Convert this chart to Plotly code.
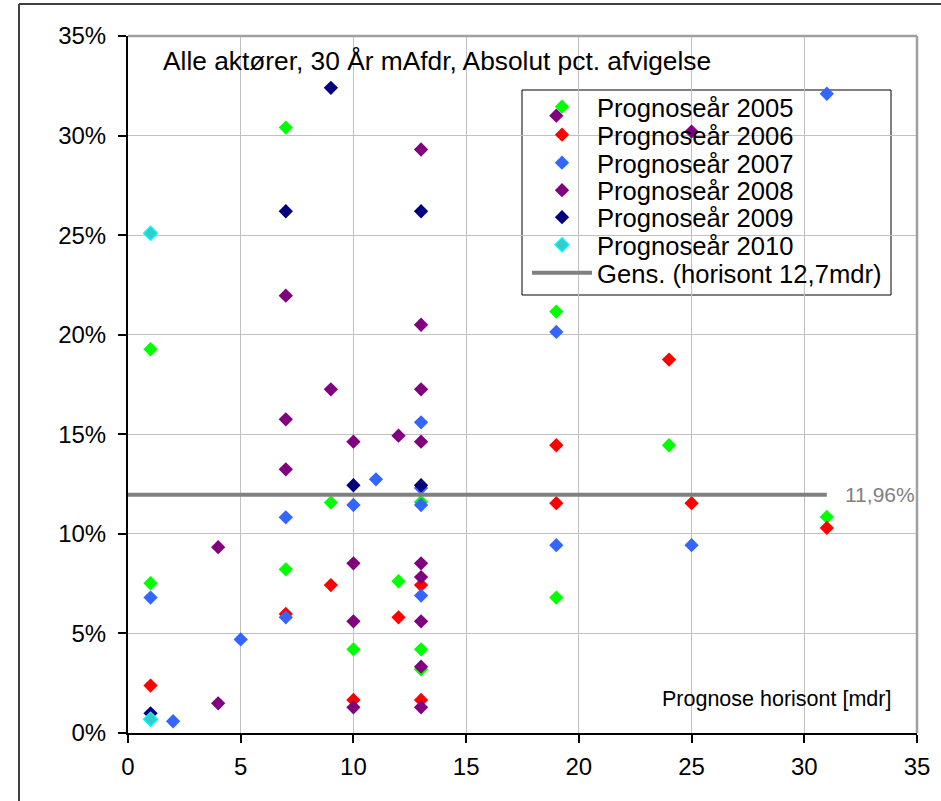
import plotly.graph_objects as go

# ---------------- data ----------------
series_names = ["Prognoseår 2005", "Prognoseår 2006", "Prognoseår 2007",
                "Prognoseår 2008", "Prognoseår 2009", "Prognoseår 2010"]

x_2005 = [1, 1, 7, 7, 9, 10, 12, 13, 13, 13, 19, 19, 24, 31]
y_2005 = [19.27, 7.52, 30.4, 8.22, 11.57, 4.2, 7.62, 11.6, 4.2, 3.2, 21.16, 6.8, 14.45, 10.85]

x_2006 = [1, 7, 9, 10, 12, 13, 13, 19, 19, 24, 25, 31]
y_2006 = [2.38, 5.98, 7.43, 1.66, 5.81, 7.43, 1.66, 14.45, 11.54, 18.75, 11.54, 10.3]

x_2007 = [1, 2, 5, 7, 7, 10, 11, 13, 13, 13, 13, 19, 19, 25, 31]
y_2007 = [6.8, 0.59, 4.7, 10.83, 5.81, 11.45, 12.74, 15.6, 12.3, 11.45, 6.9, 20.14, 9.43, 9.43, 32.1]

x_2008 = [4, 4, 7, 7, 7, 9, 10, 10, 10, 10, 12, 13, 13, 13, 13, 13, 13, 13, 13, 13, 19, 25]
y_2008 = [9.33, 1.49, 21.96, 15.75, 13.24, 17.26, 14.63, 8.52, 5.61, 1.29, 14.93,
          29.3, 20.5, 17.26, 14.63, 8.52, 7.83, 5.61, 3.33, 1.29, 31.0, 30.2]

x_2009 = [1, 7, 9, 10, 13, 13]
y_2009 = [0.99, 26.2, 32.4, 12.44, 26.2, 12.44]

x_2010 = [1, 1]
y_2010 = [25.1, 0.69]

mean_name = "Gens. (horisont 12,7mdr)"
mean_x = [0, 31]
mean_value = 11.96
mean_label = "11,96%"

title_text = "Alle aktører, 30 År mAfdr, Absolut pct. afvigelse"
xaxis_title = "Prognose horisont [mdr]"
x_ticks = [0, 5, 10, 15, 20, 25, 30, 35]
y_ticks = [0, 5, 10, 15, 20, 25, 30, 35]
y_tick_labels = ["0%", "5%", "10%", "15%", "20%", "25%", "30%", "35%"]

# ---------------- layout geometry ----------------
W, H = 941, 801
ML, MR, MT, MB = 128, 24, 36, 68
PW = W - ML - MR
PH = H - MT - MB


def px_x(px):
    return (px - ML) / PW


def px_y(py):
    return (H - MB - py) / PH


FONT = "Liberation Sans, Arial, sans-serif"

colors = ["#00FF00", "#FF0000", "#3366FF", "#800080", "#000080", "#33CCCC"]
line_colors = ["#00FF00", "#FF0000", "#3366FF", "#800080", "#000080", "#00FFFF"]
xs = [x_2005, x_2006, x_2007, x_2008, x_2009, x_2010]
ys = [y_2005, y_2006, y_2007, y_2008, y_2009, y_2010]
legend_ids = ["legend", "legend2", "legend3", "legend4", "legend5", "legend6", "legend7"]
legend_rows = [107, 135, 163, 190.5, 217.5, 245, 273]

fig = go.Figure()
for i in range(6):
    fig.add_trace(go.Scatter(
        x=xs[i], y=ys[i], mode="markers", name=series_names[i],
        marker=dict(symbol="diamond", size=11, color=colors[i],
                    line=dict(color=line_colors[i], width=1.2 if i == 5 else 0)),
        legend=legend_ids[i], showlegend=True,
    ))

fig.add_trace(go.Scatter(
    x=mean_x, y=[mean_value] * len(mean_x), mode="lines", name=mean_name,
    line=dict(color="#808080", width=4), legend="legend7", showlegend=True,
))

legend_common = dict(xanchor="left", yanchor="middle", bgcolor="rgba(0,0,0,0)",
                     borderwidth=0, itemwidth=60,
                     font=dict(family=FONT, size=25.6, color="black"))
layout_legends = {}
for lid, row in zip(legend_ids, legend_rows):
    layout_legends[lid] = dict(x=px_x(527), y=px_y(row), **legend_common)

axis_common = dict(
    range=[0, 35], showgrid=True, gridcolor="#C0C0C0", gridwidth=1,
    showline=True, linecolor="black", linewidth=2, ticks="outside", ticklen=8,
    tickwidth=1.5, tickcolor="black", zeroline=False, tickmode="array",
    tickfont=dict(family=FONT, size=24, color="black"),
)

fig.update_layout(
    width=W, height=H, margin=dict(l=ML, r=MR, t=MT, b=MB, pad=0),
    paper_bgcolor="white", plot_bgcolor="white",
    font=dict(family=FONT, size=24, color="black"),
    xaxis=dict(tickvals=x_ticks, ticktext=[str(v) for v in x_ticks],
               ticklabelstandoff=3, **axis_common),
    yaxis=dict(tickvals=y_ticks, ticktext=y_tick_labels,
               ticklabelstandoff=7, **axis_common),
    **layout_legends,
)

# legend box (white, beneath the markers like the original)
fig.add_shape(type="rect", xref="paper", yref="paper",
              x0=px_x(522), x1=px_x(891), y0=px_y(295), y1=px_y(90),
              fillcolor="white", line=dict(color="black", width=1), layer="between")

# plot area border (top / right) in grey
fig.add_shape(type="line", xref="paper", yref="paper", x0=0, x1=1, y0=1, y1=1,
              line=dict(color="#A0A0A0", width=2.5))
fig.add_shape(type="line", xref="paper", yref="paper", x0=1, x1=1, y0=0, y1=1,
              line=dict(color="#A0A0A0", width=2.5))

# outer chart border (top / left), cropped on the other sides
fig.add_shape(type="line", xref="paper", yref="paper",
              x0=px_x(19), x1=px_x(19), y0=px_y(810), y1=px_y(4),
              line=dict(color="#404040", width=2))
fig.add_shape(type="line", xref="paper", yref="paper",
              x0=px_x(19), x1=px_x(950), y0=px_y(4), y1=px_y(4),
              line=dict(color="#404040", width=2))

fig.add_annotation(text=title_text, xref="paper", yref="paper",
                   x=px_x(161), y=px_y(61), xanchor="left", yanchor="middle",
                   showarrow=False, font=dict(family=FONT, size=26.3, color="black"))
fig.add_annotation(text=xaxis_title, xref="paper", yref="paper",
                   x=px_x(893), y=px_y(699), xanchor="right", yanchor="middle",
                   showarrow=False, font=dict(family=FONT, size=21.5, color="black"))
fig.add_annotation(text=mean_label, xref="x", yref="y",
                   x=mean_x[-1], y=mean_value, xanchor="left", yanchor="middle",
                   xshift=16, showarrow=False,
                   font=dict(family=FONT, size=21, color="#808080"))

fig.write_html("out.html")
